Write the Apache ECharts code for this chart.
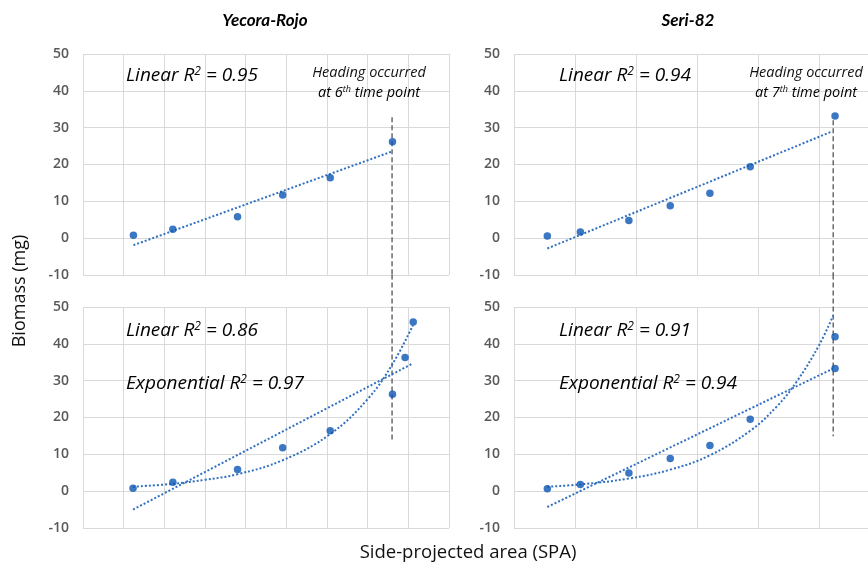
<!DOCTYPE html>
<html>
<head>
<meta charset="utf-8">
<script src="https://cdn.jsdelivr.net/npm/echarts@6/dist/echarts.min.js"></script>
<style>
html,body{margin:0;padding:0;background:#fff;}
#chart{width:868px;height:575px;}
</style>
</head>
<body>
<div id="chart"></div>
<script>
// ---- data ----
const yTicks = [-10, 0, 10, 20, 30, 40, 50];
const panelTitles = ['Yecora-Rojo', 'Seri-82'];

// Yecora-Rojo, before heading (top)
const tlX = [1.24, 2.21, 3.80, 4.91, 6.08, 7.61];
const tlY = [0.8, 2.4, 5.8, 11.7, 16.4, 26.2];
const tlLinX = [1.24, 7.59];
const tlLinY = [-1.9, 23.5];
const tlHeadX = [7.6, 7.6];
const tlHeadY = [32.8, -10];

// Yecora-Rojo, all points (bottom)
const blX = [1.23, 2.21, 3.80, 4.91, 6.08, 7.61, 7.92, 8.12];
const blY = [0.8, 2.45, 5.9, 11.8, 16.4, 26.3, 36.3, 45.9];
const blLinX = [1.23, 8.08];
const blLinY = [-5.0, 34.5];
const blExpX = [1.23, 2.21, 3.0, 3.8, 4.91, 6.08, 7.0, 7.61, 8.11];
const blExpY = [1.2, 2.0, 3.1, 4.6, 8.4, 15.5, 25.0, 34.5, 45.0];
const blHeadX = [7.6, 7.6];
const blHeadY = [58.8, 13.5];

// Seri-82, before heading (top)
const trX = [0.546, 1.087, 1.882, 2.56, 3.21, 3.87, 5.26];
const trY = [0.6, 1.7, 4.8, 8.8, 12.2, 19.4, 33.2];
const trLinX = [0.546, 5.20];
const trLinY = [-2.8, 28.9];
const trHeadX = [5.23, 5.23];
const trHeadY = [32.0, -10];

// Seri-82, all points (bottom)
const brX = [0.546, 1.087, 1.882, 2.56, 3.21, 3.87, 5.26, 5.26];
const brY = [0.65, 1.8, 4.9, 8.9, 12.4, 19.5, 33.3, 41.9];
const brLinX = [0.546, 5.23];
const brLinY = [-4.3, 33.3];
const brExpX = [0.546, 1.09, 1.88, 2.56, 3.21, 3.87, 4.3, 4.63, 5.0, 5.23];
const brExpY = [1.2, 1.84, 3.43, 5.84, 9.74, 16.4, 22.9, 29.7, 39.7, 47.7];
const brHeadX = [5.23, 5.23];
const brHeadY = [58.8, 14.9];

// x extents: left panels show 9 grid intervals; right panels are cut at the image edge
const leftXMax = 9, rightXMax = 5.8;

// ---- helpers ----
const zip = (xs, ys) => xs.map((x, i) => [x, ys[i]]);
const DOT = '#0a55b3';
const TREND = '#3070c0';
const GRID = '#d9d9d9';

const grids = [
  {left: 83, top: 54, width: 366, height: 221},
  {left: 514, top: 54, width: 354, height: 221},
  {left: 83, top: 307, width: 366, height: 221},
  {left: 514, top: 307, width: 354, height: 221}
];
const xMaxes = [leftXMax, rightXMax, leftXMax, rightXMax];

const xAxes = grids.map((g, i) => ({
  type: 'value', gridIndex: i, min: 0, max: xMaxes[i], interval: 1,
  axisLine: {show: false}, axisTick: {show: false}, axisLabel: {show: false},
  splitLine: {show: true, showMaxLine: i % 2 === 0, lineStyle: {color: GRID, width: 1}}
}));
const yAxes = grids.map((g, i) => ({
  type: 'value', gridIndex: i, min: yTicks[0], max: yTicks[yTicks.length - 1], interval: 10,
  axisLine: {show: false}, axisTick: {show: false},
  axisLabel: {color: '#595959', fontSize: 14, fontWeight: 600, fontFamily: 'Open Sans', margin: 14},
  splitLine: {show: true, lineStyle: {color: GRID, width: 1}}
}));

function trend(i, xs, ys, smooth) {
  return {type: 'line', xAxisIndex: i, yAxisIndex: i, data: zip(xs, ys), smooth: smooth ? 0.4 : false,
    showSymbol: false, symbol: 'none', silent: true, z: 2,
    lineStyle: {color: TREND, width: 2, type: [2, 2]}};
}
function heading(i, xs, ys) {
  return {type: 'line', xAxisIndex: i, yAxisIndex: i, data: zip(xs, ys), clip: false,
    showSymbol: false, symbol: 'none', silent: true, z: 1,
    lineStyle: {color: '#5f5f5f', width: 1.4, type: [5, 3]}};
}
function dots(i, xs, ys) {
  return {type: 'scatter', xAxisIndex: i, yAxisIndex: i, data: zip(xs, ys),
    symbol: 'circle', symbolSize: 7.5, itemStyle: {color: DOT}, z: 5};
}

const series = [
  trend(0, tlLinX, tlLinY), heading(0, tlHeadX, tlHeadY), dots(0, tlX, tlY),
  trend(1, trLinX, trLinY), heading(1, trHeadX, trHeadY), dots(1, trX, trY),
  trend(2, blLinX, blLinY), trend(2, blExpX, blExpY, true), heading(2, blHeadX, blHeadY), dots(2, blX, blY),
  trend(3, brLinX, brLinY), trend(3, brExpX, brExpY, true), heading(3, brHeadX, brHeadY), dots(3, brX, brY)
];

const rich = {
  i: {fontFamily: 'Open Sans', fontStyle: 'italic', fontSize: 19, color: '#111'},
  s: {fontFamily: 'Open Sans', fontStyle: 'italic', fontSize: 12, color: '#111', verticalAlign: 'top', padding: [0, 0, 9, 0]}
};
function rText(x, y, label, value) {
  return {type: 'text', x: x, y: y, z: 100,
    style: {text: '{i|' + label + ' R}{s|2}{i| = ' + value + '}', rich: rich, verticalAlign: 'middle'}};
}
function headText(cx, y, ord) {
  const r = {
    h: {fontFamily: 'Open Sans', fontStyle: 'italic', fontSize: 14.5, color: '#111'},
    hs: {fontFamily: 'Open Sans', fontStyle: 'italic', fontSize: 9, color: '#111', verticalAlign: 'top', padding: [0, 0, 7, 0]}
  };
  return [
    {type: 'text', x: cx, y: y, z: 100, style: {text: 'Heading occurred', align: 'center', verticalAlign: 'middle', font: 'italic 14.5px "Open Sans"', fill: '#111'}},
    {type: 'text', x: cx, y: y + 20, z: 100, style: {text: '{h|at ' + ord + '}{hs|th}{h| time point}', rich: r, align: 'center', verticalAlign: 'middle'}}
  ];
}

const graphic = [
  {type: 'text', x: 265, y: 21, style: {text: panelTitles[0], align: 'center', verticalAlign: 'middle', font: 'italic bold 17px Lato', fill: '#000'}},
  {type: 'text', x: 688, y: 21, style: {text: panelTitles[1], align: 'center', verticalAlign: 'middle', font: 'italic bold 17px Lato', fill: '#000'}},
  {type: 'text', x: 20, y: 291, rotation: Math.PI / 2, style: {text: 'Biomass (mg)', align: 'center', verticalAlign: 'middle', font: '18px "Open Sans"', fill: '#111'}},
  {type: 'text', x: 468, y: 553, style: {text: 'Side-projected area (SPA)', align: 'center', verticalAlign: 'middle', font: '18.5px "Open Sans"', fill: '#111'}},
  rText(126, 76, 'Linear', '0.95'),
  rText(559, 76, 'Linear', '0.94'),
  rText(126, 331, 'Linear', '0.86'),
  rText(126, 384, 'Exponential', '0.97'),
  rText(559, 331, 'Linear', '0.91'),
  rText(559, 384, 'Exponential', '0.94')
].concat(headText(369, 73, '6')).concat(headText(806, 73, '7'));

const chart = echarts.init(document.getElementById('chart'), null, {renderer: 'canvas'});
chart.setOption({
  animation: false,
  backgroundColor: '#ffffff',
  grid: grids,
  xAxis: xAxes,
  yAxis: yAxes,
  series: series,
  graphic: graphic
});
</script>
</body>
</html>
